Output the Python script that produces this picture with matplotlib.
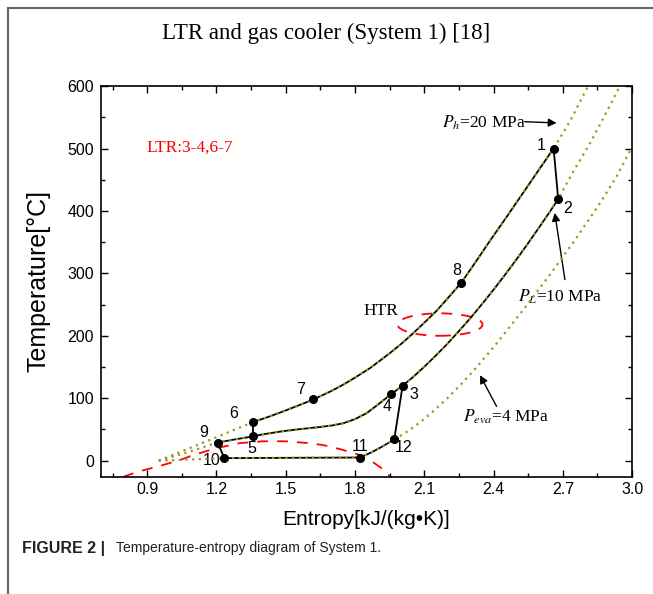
import numpy as np
import matplotlib
matplotlib.use('Agg')
import matplotlib.pyplot as plt
from matplotlib.patches import Ellipse
from matplotlib.lines import Line2D

plt.rcParams['font.family'] = 'Liberation Sans'
plt.rcParams['mathtext.fontset'] = 'stix'

# state points of the cycle
pt_labels = ['1', '2', '3', '4', '5', '6', '7', '8', '9', '10', '11', '12']
pt_s = [2.66, 2.68, 2.006, 1.955, 1.36, 1.36, 1.62, 2.26, 1.205, 1.234, 1.82, 1.97]
pt_T = [500, 419, 120, 106, 39, 62, 98, 285, 29, 4, 5, 34]
pt_off = [(-9, 2), (7, -7), (8, -6), (-3, -9), (-1, -9), (-14, 6),
          (-9, 7), (-3, 9), (-10, 7), (-9, -2), (0, 8), (7, -6)]

# isobars
ph_s = [0.95, 1.15, 1.36, 1.42, 1.49, 1.55, 1.62, 1.70, 1.75, 1.80, 1.864, 1.90, 1.95, 2.00,
        2.05, 2.10, 2.153, 2.20, 2.26, 2.32, 2.384, 2.45, 2.528, 2.60, 2.66, 2.73, 2.809]
ph_T = [0, 30, 62, 69.5, 79, 87.7, 98, 112, 122, 133, 148, 158, 172, 187,
        203.5, 221, 240, 259.5, 285, 317, 352, 387, 429, 468, 500, 543, 600]
pl_s = [0.95, 1.08, 1.205, 1.28, 1.36, 1.40, 1.45, 1.50, 1.55, 1.60, 1.65, 1.70, 1.75, 1.80,
        1.85, 1.90, 1.955, 1.98, 2.006, 2.05, 2.10, 2.15, 2.20, 2.25, 2.30, 2.35, 2.40, 2.45,
        2.50, 2.55, 2.60, 2.64, 2.68, 2.745, 2.817, 2.88, 2.947]
pl_T = [0, 14, 29, 34, 39, 42, 45, 47.8, 50, 52, 54, 56.3, 60, 66.5,
        76, 90, 106, 113, 120, 133.5, 150.4, 168.4, 187.2, 207.5, 228.5, 250.8, 273.9, 298,
        322.7, 348.5, 375.1, 396.7, 419, 463, 508, 552, 600]
pe_s = [0.95, 1.10, 1.234, 1.50, 1.82, 1.87, 1.92, 1.97, 2.03, 2.08, 2.14, 2.20, 2.26, 2.32,
        2.40, 2.48, 2.56, 2.65, 2.75, 2.85, 2.93, 3.0]
pe_T = [0, 2, 4, 4.5, 5, 13, 23, 34, 47.5, 61, 79.5, 100, 122.6, 146.9,
        181.7, 218.9, 256.7, 301, 352.2, 406.2, 453.4, 503]

# saturation dome
dome_s = [0.796, 0.857, 0.95, 1.042, 1.10, 1.20, 1.30, 1.40, 1.50, 1.60, 1.662, 1.74, 1.821, 1.88, 1.937, 1.951]
dome_T = [-26, -18, -9, 1, 9, 20, 28, 31, 31, 28, 25, 18, 9, -3, -18, -26]

# solid cycle segments: index ranges in the isobar lists
hp_idx = (2, 24)   # 6 -> 1 on 20 MPa
lp_idx = (2, 32)   # 9 -> 2 on 10 MPa
ev_idx = (2, 7)    # 10 -> 12 on 4 MPa
vert_pairs = [('1', '2'), ('5', '6'), ('9', '10'), ('12', '3')]

olive = '#9a9a1e'

fig = plt.figure(figsize=(6.53, 5.94), dpi=100)
ax = fig.add_axes([0.1547, 0.1975, 0.8133, 0.6575])

for s, T, (a, b) in [(ph_s, ph_T, hp_idx), (pl_s, pl_T, lp_idx), (pe_s, pe_T, ev_idx)]:
    ax.plot(s[a:b + 1], T[a:b + 1], color='black', lw=1.3, zorder=3)
    ax.plot(s, T, color=olive, lw=1.6, ls=(0, (1, 2)), zorder=4)

for a, b in vert_pairs:
    i, j = pt_labels.index(a), pt_labels.index(b)
    ax.plot([pt_s[i], pt_s[j]], [pt_T[i], pt_T[j]], color='black', lw=1.3, zorder=3)

ax.plot(dome_s, dome_T, color='red', lw=1.3, ls=(0, (6, 5)), zorder=2)
ax.add_patch(Ellipse((2.168, 218), 0.368, 36, fill=False, edgecolor='red', lw=1.3,
                     ls=(0, (6, 5)), zorder=2))

ax.plot(pt_s, pt_T, 'o', color='black', ms=5.5, zorder=5)
for lab, s, T, off in zip(pt_labels, pt_s, pt_T, pt_off):
    ax.annotate(lab, (s, T), xytext=off, textcoords='offset points',
                ha='center', va='center', fontsize=11.5)

serif = 'Liberation Serif'
ap = dict(arrowstyle='-|>', color='black', lw=1, mutation_scale=12, shrinkA=0, shrinkB=0)
ax.text(2.175, 541, '$P_h$=20 MPa', family=serif, fontsize=12.5, va='center')
ax.annotate('', xy=(2.673, 541), xytext=(2.535, 543), arrowprops=ap)
ax.text(2.506, 263, '$P_L$=10 MPa', family=serif, fontsize=12.5, va='center')
ax.annotate('', xy=(2.665, 397), xytext=(2.709, 290), arrowprops=ap)
ax.text(2.268, 70, '$P_{eva}$=4 MPa', family=serif, fontsize=12.5, va='center')
ax.annotate('', xy=(2.341, 137), xytext=(2.413, 87), arrowprops=ap)
ax.text(1.835, 239, 'HTR', family=serif, fontsize=12.5, va='center')
ax.text(0.898, 501, 'LTR:3-4,6-7', family=serif, fontsize=12.5, va='center', color='red')

ax.set_xlim(0.7, 3.0)
ax.set_ylim(-25.7, 600)
ax.set_xticks([0.9, 1.2, 1.5, 1.8, 2.1, 2.4, 2.7, 3.0])
ax.set_xticks(np.arange(0.75, 3.0, 0.3), minor=True)
ax.set_yticks([0, 100, 200, 300, 400, 500, 600])
ax.set_yticks([50, 150, 250, 350, 450, 550], minor=True)
ax.tick_params(which='both', direction='in', top=True, right=True, labelsize=11.5)
ax.tick_params(axis='y', pad=5)
ax.tick_params(which='major', length=5, width=1)
ax.tick_params(which='minor', length=3, width=1)
for sp in ax.spines.values():
    sp.set_linewidth(1.2)
ax.set_xlabel('Entropy[kJ/(kg\u2022K)]', fontsize=15, labelpad=10)
ax.set_ylabel('Temperature[\u00b0C]', fontsize=18, labelpad=12)

fig.text(0.5, 0.944, 'LTR and gas cooler (System 1) [18]', family=serif, fontsize=16.5,
         ha='center', va='center')
fig.text(0.034, 0.077, 'FIGURE 2 |', fontsize=11.5, weight='bold', va='center', color='#222222')
fig.text(0.178, 0.077, 'Temperature-entropy diagram of System 1.', fontsize=10, va='center',
         color='#222222')
fig.add_artist(Line2D([0.012, 1.0], [0.9865, 0.9865], color='#666666', lw=1.5))
fig.add_artist(Line2D([0.012, 0.012], [0.0, 0.9865], color='#666666', lw=1.5))

fig.savefig('out.png', dpi=100)
